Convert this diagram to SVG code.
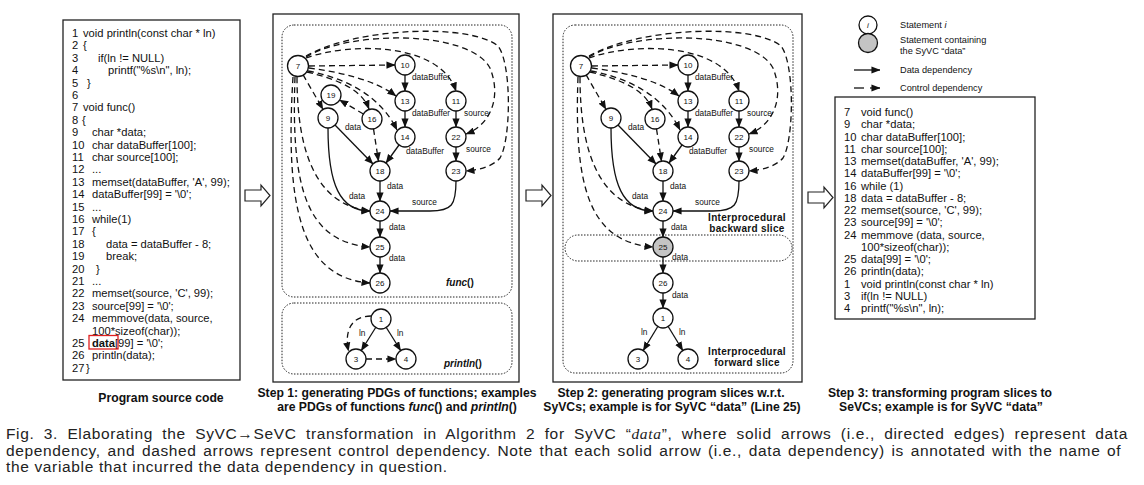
<svg xmlns="http://www.w3.org/2000/svg" width="1144" height="485" viewBox="0 0 1144 485">
<defs>
<marker id="ah" viewBox="0 0 10 8" refX="9.5" refY="4" markerWidth="9" markerHeight="7.5" markerUnits="userSpaceOnUse" orient="auto"><path d="M0,0 L10,4 L0,8 z" fill="#111"/></marker>
<style>
.box{fill:none;stroke:#222;stroke-width:1.3}
.dot{fill:none;stroke:#222;stroke-width:1;stroke-dasharray:1.5 1.5}
.nd circle{fill:#fff;stroke:#111;stroke-width:1.3}
.nd text{font-family:"Liberation Sans",sans-serif;font-size:8px;text-anchor:middle;fill:#111}
.s{fill:none;stroke:#111;stroke-width:1.3;marker-end:url(#ah)}
.d{fill:none;stroke:#111;stroke-width:1.3;stroke-dasharray:6 4;marker-end:url(#ah)}
.lb{font-family:"Liberation Sans",sans-serif;font-size:8.3px;fill:#111}
.code{font-family:"Liberation Sans",sans-serif;font-size:11.2px;fill:#111}
.cap{font-family:"Liberation Sans",sans-serif;font-size:12.2px;font-weight:bold;text-anchor:middle;fill:#111}
.lg{font-family:"Liberation Sans",sans-serif;font-size:9.2px;fill:#111}
.sl{font-family:"Liberation Sans",sans-serif;font-size:10px;font-weight:bold;text-anchor:middle;fill:#111;letter-spacing:0.3px}
.fn{font-family:"Liberation Sans",sans-serif;font-size:10px;font-weight:bold;fill:#111}
.fig{font-family:"Liberation Sans",sans-serif;font-size:15.5px;letter-spacing:0.65px;fill:#222}
.blk{fill:#fff;stroke:#222;stroke-width:1.2}
</style>
</defs>
<rect width="1144" height="485" fill="#fff"/>

<!-- Program source code panel -->
<g id="source-code">
<rect class="box" x="63" y="20" width="177" height="360"/>
<g class="code">
<text x="72" y="37">1</text><text x="83" y="37">void println(const char * ln)</text>
<text x="72" y="49.4">2</text><text x="83" y="49.4">{</text>
<text x="72" y="61.8">3</text><text x="98" y="61.8">if(ln != NULL)</text>
<text x="72" y="74.2">4</text><text x="108" y="74.2">printf("%s\n", ln);</text>
<text x="72" y="86.6">5</text><text x="87" y="86.6">}</text>
<text x="72" y="99">6</text>
<text x="72" y="111.4">7</text><text x="83" y="111.4">void func()</text>
<text x="72" y="123.8">8</text><text x="82" y="123.8">{</text>
<text x="72" y="136.2">9</text><text x="92" y="136.2">char *data;</text>
<text x="72" y="148.6">10</text><text x="92" y="148.6">char dataBuffer[100];</text>
<text x="72" y="161">11</text><text x="92" y="161">char source[100];</text>
<text x="72" y="173.4">12</text><text x="92" y="173.4">...</text>
<text x="72" y="185.8">13</text><text x="92" y="185.8">memset(dataBuffer, 'A', 99);</text>
<text x="72" y="198.2">14</text><text x="92" y="198.2">dataBuffer[99] = '\0';</text>
<text x="72" y="210.6">15</text><text x="92" y="210.6">...</text>
<text x="72" y="223">16</text><text x="92" y="223">while(1)</text>
<text x="72" y="235.4">17</text><text x="92" y="235.4">{</text>
<text x="72" y="247.8">18</text><text x="106" y="247.8">data = dataBuffer - 8;</text>
<text x="72" y="260.2">19</text><text x="106" y="260.2">break;</text>
<text x="72" y="272.6">20</text><text x="96" y="272.6">}</text>
<text x="72" y="285">21</text><text x="92" y="285">...</text>
<text x="72" y="297.4">22</text><text x="92" y="297.4">memset(source, 'C', 99);</text>
<text x="72" y="309.8">23</text><text x="92" y="309.8">source[99] = '\0';</text>
<text x="72" y="322.2">24</text><text x="92" y="322.2">memmove(data, source,</text>
<text x="92" y="334.6">100*sizeof(char));</text>
<text x="72" y="347">25</text><text x="92" y="347"><tspan font-weight="bold">data</tspan>[99] = '\0';</text>
<text x="72" y="359.4">26</text><text x="92" y="359.4">println(data);</text>
<text x="72" y="371.8">27</text><text x="86" y="371.8">}</text>
</g>
<rect x="89" y="335.5" width="29" height="13.5" fill="none" stroke="#e02020" stroke-width="1.3"/>
<text class="cap" x="161" y="402" font-size="13px">Program source code</text>
</g>

<!-- Block arrows -->
<g id="step-arrows">
<polygon class="blk" points="245,190 261,190 261,185 270,195.5 261,206 261,201 245,201"/>
<polygon class="blk" points="526,190 542,190 542,185 551,195.5 542,206 542,201 526,201"/>
<polygon class="blk" points="808,192 824,192 824,187 833,197.5 824,208 824,203 808,203"/>
</g>

<!-- Step 1 panel -->
<g id="step1">
<rect class="box" x="273" y="14" width="246" height="368"/>
<rect class="dot" x="282" y="25" width="230" height="272" rx="12"/>
<rect class="dot" x="282" y="303" width="230" height="71" rx="12"/>
<text class="fn" x="446" y="286"><tspan font-style="italic">func</tspan>()</text>
<text class="fn" x="444" y="367"><tspan font-style="italic">println</tspan>()</text>
<text class="cap" x="397" y="397">Step 1: generating PDGs of functions; examples</text>
<text class="cap" x="397" y="411">are PDGs of functions <tspan font-style="italic">func</tspan>() and <tspan font-style="italic">println</tspan>()</text>
</g>

<!-- Step 2 panel -->
<g id="step2">
<rect class="box" x="553" y="14" width="249" height="368"/>
<rect class="dot" x="563" y="25" width="230" height="348" rx="12"/>
<rect class="dot" x="565" y="235" width="227" height="26" rx="13"/>
<text class="sl" x="747" y="221">Interprocedural</text>
<text class="sl" x="747" y="232">backward slice</text>
<text class="sl" x="747" y="355">Interprocedural</text>
<text class="sl" x="747" y="366">forward slice</text>
<text class="cap" x="671" y="397">Step 2: generating program slices w.r.t.</text>
<text class="cap" x="672" y="411">SyVCs; example is for SyVC “data” (Line 25)</text>
</g>

<!-- Connectors -->
<g id="connectors">
<g id="step1-edges">
<path class="s" d="M405,75 L405,91"/>
<path class="s" d="M405,111 L405,127"/>
<path class="s" d="M456,111 L456,127"/>
<path class="s" d="M456,147 L456,161"/>
<path class="s" d="M380,181 L380,201"/>
<path class="s" d="M380,221 L380,237"/>
<path class="s" d="M380,257 L380,273"/>
<path class="s" d="M399,145 L386,163"/>
<path class="s" d="M335,125 L373,164"/>
<path class="s" d="M328,128 C328,185 340,211 370,211"/>
<path class="s" d="M456,181 C456,205 452,211 430,211 L390,211"/>
<path class="s" d="M375.7,327.5 L361.3,350.5"/>
<path class="s" d="M386.3,327.5 L400.7,350.5"/>
<path class="d" d="M371,316 C352,316 344,330 348.5,351"/>
<path class="d" d="M366,359 L396,359"/>
<path class="d" d="M309,66 L395,65"/>
<path class="d" d="M306,58 C350,42 440,42 456,91"/>
<path class="d" d="M306,57 C350,30 470,30 490,68 C502,98 490,125 466,134"/>
<path class="d" d="M306,56 C360,26 472,24 498,46 C512,64 511,140 500,158 C493,166 480,170 466,171"/>
<path class="d" d="M309,68 C340,72 375,80 396,96"/>
<path class="d" d="M308,71 C345,78 380,95 397,130"/>
<path class="d" d="M307,72 C340,80 362,90 369,109"/>
<path class="d" d="M303,74.7 L323,109.3"/>
<path class="d" d="M363.4,114 L339.6,100"/>
<path class="d" d="M373.5,128.9 L378.5,161.1"/>
<path class="d" d="M297,77 C297,150 315,205 370,211"/>
<path class="d" d="M295,77 C291,185 305,242 370,247"/>
<path class="d" d="M293,77 C285,205 300,278 370,283"/>
<g class="lb">
<text x="412" y="80">dataBuffer</text>
<text x="412" y="116">dataBuffer</text>
<text x="464" y="116">source</text>
<text x="466" y="152">source</text>
<text x="406" y="154">dataBuffer</text>
<text x="345" y="130">data</text>
<text x="387" y="189">data</text>
<text x="349" y="199">data</text>
<text x="412" y="205">source</text>
<text x="389" y="230">data</text>
<text x="389" y="261">data</text>
<text x="359" y="336">ln</text>
<text x="397" y="336">ln</text>
</g>
</g>
<g id="step2-edges" transform="translate(283,0)">
<path class="s" d="M405,75 L405,91"/>
<path class="s" d="M405,111 L405,127"/>
<path class="s" d="M456,111 L456,127"/>
<path class="s" d="M456,147 L456,161"/>
<path class="s" d="M380,181 L380,201"/>
<path class="s" d="M380,221 L380,237"/>
<path class="s" d="M380,257 L380,273"/>
<path class="s" d="M380,293 L380,308"/>
<path class="s" d="M399,145 L386,163"/>
<path class="s" d="M335,125 L373,164"/>
<path class="s" d="M328,128 C328,185 340,211 370,211"/>
<path class="s" d="M456,181 C456,205 452,211 430,211 L390,211"/>
<path class="s" d="M374.8,326.5 L360.2,350.5"/>
<path class="s" d="M385.2,326.5 L399.8,350.5"/>
<path class="d" d="M309,66 L395,65"/>
<path class="d" d="M306,58 C350,42 440,42 456,91"/>
<path class="d" d="M306,57 C350,30 470,30 490,68 C502,98 490,125 466,134"/>
<path class="d" d="M306,56 C360,26 472,24 498,46 C512,64 511,140 500,158 C493,166 480,170 466,171"/>
<path class="d" d="M309,68 C340,72 375,80 396,96"/>
<path class="d" d="M308,71 C345,78 380,95 397,130"/>
<path class="d" d="M307,72 C340,80 362,90 369,109"/>
<path class="d" d="M303,74.7 L323,109.3"/>
<path class="d" d="M373.5,128.9 L378.5,161.1"/>
<path class="d" d="M297,77 C297,150 315,205 370,211"/>
<path class="d" d="M295,77 C291,185 305,242 370,247"/>
<g class="lb">
<text x="412" y="80">dataBuffer</text>
<text x="412" y="116">dataBuffer</text>
<text x="464" y="116">source</text>
<text x="466" y="152">source</text>
<text x="406" y="154">dataBuffer</text>
<text x="345" y="130">data</text>
<text x="387" y="189">data</text>
<text x="349" y="199">data</text>
<text x="412" y="205">source</text>
<text x="388" y="230">data</text>
<text x="389" y="260">data</text>
<text x="389" y="298">data</text>
<text x="358" y="335">ln</text>
<text x="396" y="335">ln</text>
</g>
</g>
<g id="legend-edges">
<path class="s" d="M854,70 L880,70"/>
<path fill="none" stroke="#111" stroke-width="1.3" d="M854,88 L864,88"/>
<path class="s" d="M870,88 L880,88"/>
</g>
</g>

<!-- Step 1 nodes -->
<g id="step1-nodes">
<g id="s1-n7" class="nd"><circle cx="298" cy="66" r="10.5"/><text x="298" y="69">7</text></g>
<g id="s1-n10" class="nd"><circle cx="405" cy="65" r="10"/><text x="405" y="68">10</text></g>
<g id="s1-n13" class="nd"><circle cx="405" cy="101" r="10"/><text x="405" y="104">13</text></g>
<g id="s1-n11" class="nd"><circle cx="456" cy="101" r="10"/><text x="456" y="104">11</text></g>
<g id="s1-n19" class="nd"><circle cx="331" cy="95" r="10"/><text x="331" y="98">19</text></g>
<g id="s1-n9" class="nd"><circle cx="328" cy="118" r="10"/><text x="328" y="121">9</text></g>
<g id="s1-n16" class="nd"><circle cx="372" cy="119" r="10"/><text x="372" y="122">16</text></g>
<g id="s1-n14" class="nd"><circle cx="405" cy="137" r="10"/><text x="405" y="140">14</text></g>
<g id="s1-n22" class="nd"><circle cx="456" cy="137" r="10"/><text x="456" y="140">22</text></g>
<g id="s1-n18" class="nd"><circle cx="380" cy="171" r="10"/><text x="380" y="174">18</text></g>
<g id="s1-n23" class="nd"><circle cx="456" cy="171" r="10"/><text x="456" y="174">23</text></g>
<g id="s1-n24" class="nd"><circle cx="380" cy="211" r="10"/><text x="380" y="214">24</text></g>
<g id="s1-n25" class="nd"><circle cx="380" cy="247" r="10"/><text x="380" y="250">25</text></g>
<g id="s1-n26" class="nd"><circle cx="380" cy="283" r="10"/><text x="380" y="286">26</text></g>
<g id="s1-n1" class="nd"><circle cx="381" cy="319" r="10"/><text x="381" y="322">1</text></g>
<g id="s1-n3" class="nd"><circle cx="356" cy="359" r="10"/><text x="356" y="362">3</text></g>
<g id="s1-n4" class="nd"><circle cx="406" cy="359" r="10"/><text x="406" y="362">4</text></g>
</g>

<!-- Step 2 nodes -->
<g id="step2-nodes" transform="translate(283,0)">
<g id="s2-n7" class="nd"><circle cx="298" cy="66" r="10.5"/><text x="298" y="69">7</text></g>
<g id="s2-n10" class="nd"><circle cx="405" cy="65" r="10"/><text x="405" y="68">10</text></g>
<g id="s2-n13" class="nd"><circle cx="405" cy="101" r="10"/><text x="405" y="104">13</text></g>
<g id="s2-n11" class="nd"><circle cx="456" cy="101" r="10"/><text x="456" y="104">11</text></g>
<g id="s2-n9" class="nd"><circle cx="328" cy="118" r="10"/><text x="328" y="121">9</text></g>
<g id="s2-n16" class="nd"><circle cx="372" cy="119" r="10"/><text x="372" y="122">16</text></g>
<g id="s2-n14" class="nd"><circle cx="405" cy="137" r="10"/><text x="405" y="140">14</text></g>
<g id="s2-n22" class="nd"><circle cx="456" cy="137" r="10"/><text x="456" y="140">22</text></g>
<g id="s2-n18" class="nd"><circle cx="380" cy="171" r="10"/><text x="380" y="174">18</text></g>
<g id="s2-n23" class="nd"><circle cx="456" cy="171" r="10"/><text x="456" y="174">23</text></g>
<g id="s2-n24" class="nd"><circle cx="380" cy="211" r="10"/><text x="380" y="214">24</text></g>
<g id="s2-n25" class="nd"><circle cx="380" cy="247" r="10" style="fill:#c4c4c4"/><text x="380" y="250">25</text></g>
<g id="s2-n26" class="nd"><circle cx="380" cy="283" r="10"/><text x="380" y="286">26</text></g>
<g id="s2-n1" class="nd"><circle cx="380" cy="318" r="10"/><text x="380" y="321">1</text></g>
<g id="s2-n3" class="nd"><circle cx="355" cy="359" r="10"/><text x="355" y="362">3</text></g>
<g id="s2-n4" class="nd"><circle cx="405" cy="359" r="10"/><text x="405" y="362">4</text></g>
</g>

<!-- Legend -->
<g id="legend">
<g id="legend-stmt" class="nd"><circle cx="868" cy="25" r="9"/><text x="868" y="28" font-style="italic">i</text></g>
<g id="legend-syvc" class="nd"><circle cx="868" cy="43" r="9.5" style="fill:#c4c4c4"/></g>
<text class="lg" x="900" y="28">Statement <tspan font-style="italic">i</tspan></text>
<text class="lg" x="900" y="43">Statement containing</text>
<text class="lg" x="900" y="54">the SyVC “data”</text>
<text class="lg" x="900" y="73">Data dependency</text>
<text class="lg" x="900" y="91">Control dependency</text>
</g>

<!-- Step 3 panel -->
<g id="step3">
<rect class="box" x="835" y="97" width="200" height="222"/>
<g class="code">
<text x="844" y="116">7</text><text x="861" y="116">void func()</text>
<text x="844" y="128.3">9</text><text x="861" y="128.3">char *data;</text>
<text x="844" y="140.5">10</text><text x="861" y="140.5">char dataBuffer[100];</text>
<text x="844" y="152.8">11</text><text x="861" y="152.8">char source[100];</text>
<text x="844" y="165">13</text><text x="861" y="165">memset(dataBuffer, 'A', 99);</text>
<text x="844" y="177.3">14</text><text x="861" y="177.3">dataBuffer[99] = '\0';</text>
<text x="844" y="189.5">16</text><text x="861" y="189.5">while (1)</text>
<text x="844" y="201.8">18</text><text x="861" y="201.8">data = dataBuffer - 8;</text>
<text x="844" y="214">22</text><text x="861" y="214">memset(source, 'C', 99);</text>
<text x="844" y="226.3">23</text><text x="861" y="226.3">source[99] = '\0';</text>
<text x="844" y="238.5">24</text><text x="861" y="238.5">memmove (data, source,</text>
<text x="861" y="250.8">100*sizeof(char));</text>
<text x="844" y="263">25</text><text x="861" y="263">data[99] = '\0';</text>
<text x="844" y="275.3">26</text><text x="861" y="275.3">println(data);</text>
<text x="844" y="287.5">1</text><text x="861" y="287.5">void println(const char * ln)</text>
<text x="844" y="299.8">3</text><text x="861" y="299.8">if(ln != NULL)</text>
<text x="844" y="312">4</text><text x="861" y="312">printf("%s\n", ln);</text>
</g>
<text class="cap" x="940" y="397">Step 3: transforming program slices to</text>
<text class="cap" x="941" y="411">SeVCs; example is for SyVC “data”</text>
</g>

<!-- Figure caption -->
<g id="caption">
<text class="fig" x="6" y="439" word-spacing="4.4">Fig. 3. Elaborating the SyVC→SeVC transformation in Algorithm 2 for SyVC “<tspan font-family="Liberation Serif,serif" font-style="italic">data</tspan>”, where solid arrows (i.e., directed edges) represent data</text>
<text class="fig" x="6" y="455.5" word-spacing="1.7">dependency, and dashed arrows represent control dependency. Note that each solid arrow (i.e., data dependency) is annotated with the name of</text>
<text class="fig" x="6" y="472">the variable that incurred the data dependency in question.</text>
</g>
</svg>
